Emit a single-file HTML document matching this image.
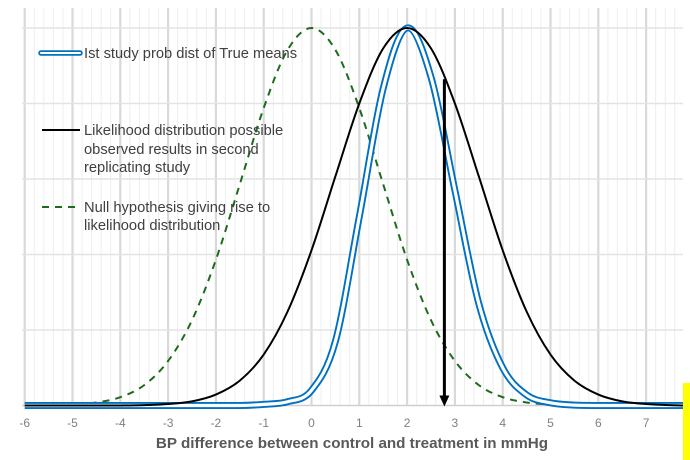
<!DOCTYPE html>
<html><head><meta charset="utf-8"><style>
html,body{margin:0;padding:0;background:#fff;}
svg{display:block;font-family:"Liberation Sans",sans-serif;}
</style></head><body>
<svg id="chart" width="690" height="460" viewBox="0 0 690 460" xmlns="http://www.w3.org/2000/svg">
<g id="grid"></g>
<g id="series"></g>
<g id="xticks"></g>
<text x="352" y="448" text-anchor="middle" font-size="15.2" font-weight="bold" fill="#595959">BP difference between control and treatment in mmHg</text>
<g font-size="14.7" fill="#404040">
  <g>
    <line x1="41" y1="53" x2="80" y2="53" stroke="#0070c0" stroke-width="5.5" stroke-linecap="round"/>
    <line x1="41" y1="53" x2="80" y2="53" stroke="#fff" stroke-width="2" stroke-linecap="round"/>
    <text x="84" y="58">Ist study prob dist of True means</text>
  </g>
  <g>
    <line x1="42" y1="130" x2="80" y2="130" stroke="#000" stroke-width="2"/>
    <text x="84" y="135">Likelihood distribution possible</text>
    <text x="84" y="154">observed results in second</text>
    <text x="84" y="172">replicating study</text>
  </g>
  <g>
    <line x1="42" y1="207" x2="80" y2="207" stroke="#1e6b1e" stroke-width="2" stroke-dasharray="7,6"/>
    <text x="84" y="212">Null hypothesis giving rise to</text>
    <text x="84" y="230">likelihood distribution</text>
  </g>
</g>
<rect x="683" y="383" width="7" height="77" fill="#ffff00"/>
</svg>
<script>
const xVals = [-6,-5.5,-5,-4.5,-4,-3.5,-3,-2.5,-2,-1.5,-1,-0.5,0,0.5,1,1.5,2,2.5,3,3.5,4,4.5,5,5.5,6,6.5,7,7.5,7.8];
const blueVals = [0,0,0,0,0,0,0,0,0,0,0.003,0.01,0.04,0.17,0.5,0.84,1,0.87,0.57,0.27,0.1,0.028,0.007,0.001,0,0,0,0,0];
const blackVals = [0,0,0,0,0,0.001,0.004,0.011,0.029,0.066,0.135,0.249,0.411,0.607,0.8,0.946,1,0.946,0.8,0.607,0.411,0.249,0.135,0.066,0.029,0.011,0.004,0.001,0];
const greenVals = [0,0.001,0.003,0.008,0.022,0.054,0.118,0.226,0.386,0.586,0.788,0.942,1,0.942,0.788,0.586,0.386,0.226,0.118,0.054,0.022,0.008,0.003,0.001,0,0,0,0,0];
const tickLabels = [-6,-5,-4,-3,-2,-1,0,1,2,3,4,5,6,7];
const arrowX = [2.78];

const NS="http://www.w3.org/2000/svg";
const X0=311.5, PX=47.8, BASE=405.5, TOP=28;
const xs=v=>X0+v*PX;
const ys=h=>BASE-h*(BASE-TOP);
function mk(tag,attrs,parent){const e=document.createElementNS(NS,tag);for(const k in attrs)e.setAttribute(k,attrs[k]);parent.appendChild(e);return e;}

const grid=document.getElementById('grid');
for(let i=-30;i<=39;i++){
  const v=i/5; const x=xs(v); if(x>683)continue;
  const major=(i%5===0);
  const l=mk('line',{x1:x,y1:8,x2:x,y2:BASE,stroke:major?'#d9d9d9':'#eeeeee','stroke-width':major?2.2:1},grid);
  
  
}
for(let k=0;k<5;k++){
  const yy=BASE-(k+1)*(BASE-TOP)/5;
  const l=mk('line',{x1:22,y1:yy,x2:683,y2:yy,stroke:'#e3e3e3','stroke-width':1.5},grid);
  
  
}
const ax=mk('line',{x1:22,y1:BASE,x2:683,y2:BASE,stroke:'#d0d0d0','stroke-width':1.5},grid);



function smoothPath(xv,yv){
  const p=xv.map((v,i)=>[xs(v),ys(yv[i])]);
  let d=`M${p[0][0]},${p[0][1]}`;
  for(let i=0;i<p.length-1;i++){
    const p0=p[i-1]||p[i],p1=p[i],p2=p[i+1],p3=p[i+2]||p2;
    let c1y=p1[1]+(p2[1]-p0[1])/6, c2y=p2[1]-(p3[1]-p1[1])/6;
    c1y=Math.min(c1y,BASE); c2y=Math.min(c2y,BASE);
    d+=` C${p1[0]+(p2[0]-p0[0])/6},${c1y} ${p2[0]-(p3[0]-p1[0])/6},${c2y} ${p2[0]},${p2[1]}`;
  }
  return d;
}
const ser=document.getElementById('series');
const g=mk('path',{d:smoothPath(xVals,greenVals),fill:'none',stroke:'#1e6b1e','stroke-width':2,'stroke-dasharray':'7,6'},ser);


const b1=mk('path',{d:smoothPath(xVals,blueVals),fill:'none',stroke:'#0070c0','stroke-width':7},ser);


const b2=mk('path',{d:smoothPath(xVals,blueVals),fill:'none',stroke:'#fff','stroke-width':3.2},ser);


const bk=mk('path',{d:smoothPath(xVals,blackVals),fill:'none',stroke:'#000','stroke-width':2},ser);



const av=arrowX[0];
let hy=0;{const i=xVals.findIndex(v=>v>av);const t=(av-xVals[i-1])/(xVals[i]-xVals[i-1]);hy=blackVals[i-1]+(blackVals[i]-blackVals[i-1])*t;}
const ar=mk('line',{x1:xs(av),y1:ys(hy),x2:xs(av),y2:BASE-8,stroke:'#000','stroke-width':3},ser);


const ah=mk('polygon',{points:`${xs(av)-5},${BASE-10} ${xs(av)+5},${BASE-10} ${xs(av)},${BASE+1}`,fill:'#000'},ser);



const xt=document.getElementById('xticks');
tickLabels.forEach(v=>{
  const t=mk('text',{x:xs(v),y:427,'text-anchor':'middle','font-size':12,fill:'#7f7f7f'},xt);
  t.textContent=v;
  
  
});
</script>
</body></html>
